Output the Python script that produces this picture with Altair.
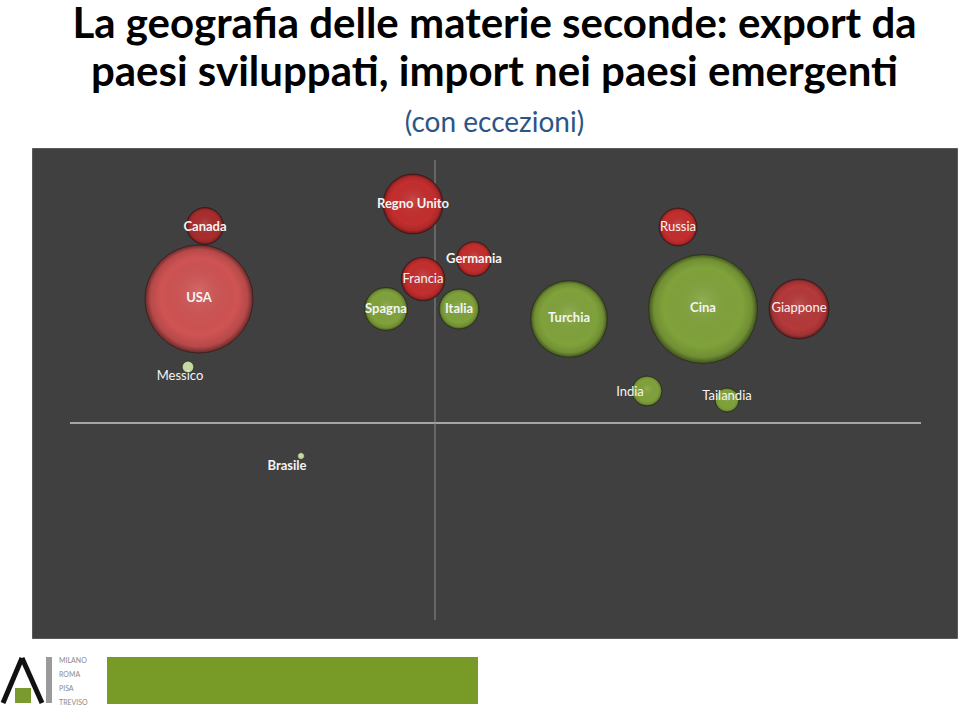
import altair as alt
import pandas as pd

# ---- data ----
paesi = ["USA", "Canada", "Messico", "Brasile", "Regno Unito", "Francia", "Spagna",
         "Germania", "Italia", "Turchia", "Russia", "Cina", "Giappone", "India", "Tailandia"]
pos_x = [-47.2, -46.0, -49.4, -26.8, -4.4, -2.4, -9.8, 7.8, 4.8, 26.8, 48.6, 53.6, 72.8, 42.4, 58.4]
pos_y = [24.8, 39.4, 11.2, -6.6, 43.8, 28.8, 22.8, 32.8, 22.8, 20.8, 39.2, 22.8, 22.8, 6.4, 4.6]
volume = [117, 13.7, 1.4, 0.5, 36, 19, 18.5, 12, 16, 59, 14.4, 119, 36, 9, 5.8]
colore = ["rosso chiaro", "rosso scuro", "verde chiaro", "verde chiaro", "rosso", "rosso", "verde",
          "rosso", "verde", "verde", "rosso", "verde", "rosso medio", "verde", "verde"]
etichetta_x = [-47.2, -46.0, -51.0, -29.6, -4.4, -2.4, -9.8, 7.8, 4.8, 26.8, 48.6, 53.6, 72.8, 39.0, 58.4]
etichetta_y = [25.0, 39.2, 9.4, -8.6, 43.8, 28.8, 22.8, 32.8, 22.8, 21.0, 39.2, 23.0, 23.0, 6.2, 5.4]
grassetto = [True, True, False, True, True, False, True, True, True, True, False, True, False, False, False]

asse_orizzontale = [-73.0, 97.2]
asse_verticale = [-39.4, 52.6]

colori_dom = ["rosso", "rosso scuro", "rosso chiaro", "rosso medio", "verde", "verde chiaro"]
colori_rng = ["#C42E2E", "#AA2D2D", "#CF5353", "#B5393A", "#80A23B", "#C8DDA2"]

df = pd.DataFrame({
    "paese": paesi, "x": pos_x, "y": pos_y, "volume": volume, "colore": colore,
    "lx": etichetta_x, "ly": etichetta_y, "bold": grassetto,
})

W, H = 925, 490
xs = alt.Scale(domain=[-80.6, 104.4], nice=False, zero=False)
ys = alt.Scale(domain=[-43, 55], nice=False, zero=False)
ss = alt.Scale(domain=[0, 120], range=[0, 12000], zero=True)

base = alt.Chart(df)

bolle = base.mark_circle(opacity=1).encode(
    x=alt.X("x:Q", scale=xs, axis=None),
    y=alt.Y("y:Q", scale=ys, axis=None),
    size=alt.Size("volume:Q", scale=ss, legend=None),
    color=alt.Color("colore:N", scale=alt.Scale(domain=colori_dom, range=colori_rng), legend=None),
)

ombra = base.mark_circle(
    opacity=1,
    fill=alt.RadialGradient(
        gradient="radial",
        stops=[
            alt.GradientStop(offset=0, color="rgba(255,255,255,0.12)"),
            alt.GradientStop(offset=0.72, color="rgba(0,0,0,0)"),
            alt.GradientStop(offset=0.9, color="rgba(0,0,0,0.12)"),
            alt.GradientStop(offset=1, color="rgba(0,0,0,0.5)"),
        ],
        x1=0.5, y1=0.42, r1=0, x2=0.5, y2=0.5, r2=0.5,
    ),
    stroke="rgba(20,20,20,0.55)",
    strokeWidth=1,
).encode(
    x=alt.X("x:Q", scale=xs, axis=None),
    y=alt.Y("y:Q", scale=ys, axis=None),
    size=alt.Size("volume:Q", scale=ss, legend=None),
)

asse_df_h = pd.DataFrame({"x": [asse_orizzontale[0]], "x2": [asse_orizzontale[1]], "y": [0.0]})
asse_df_v = pd.DataFrame({"y": [asse_verticale[0]], "y2": [asse_verticale[1]], "x": [0.0]})

linea_h = alt.Chart(asse_df_h).mark_rule(color="#A6A6A6", strokeWidth=2).encode(
    x=alt.X("x:Q", scale=xs, axis=None), x2="x2:Q", y=alt.Y("y:Q", scale=ys, axis=None))
linea_v = alt.Chart(asse_df_v).mark_rule(color="#8C8C8C", strokeWidth=1).encode(
    y=alt.Y("y:Q", scale=ys, axis=None), y2="y2:Q", x=alt.X("x:Q", scale=xs, axis=None))

font = "Lato, 'Open Sans', sans-serif"
testo_b = base.transform_filter("datum.bold").mark_text(
    font=font, fontSize=13, fontWeight="bold", color="#F4F4F4", baseline="middle", align="center"
).encode(x=alt.X("lx:Q", scale=xs, axis=None), y=alt.Y("ly:Q", scale=ys, axis=None), text="paese:N")
testo_n = base.transform_filter("!datum.bold").mark_text(
    font=font, fontSize=13, fontWeight="normal", color="#F4F4F4", baseline="middle", align="center"
).encode(x=alt.X("lx:Q", scale=xs, axis=None), y=alt.Y("ly:Q", scale=ys, axis=None), text="paese:N")

# ---- slide footer decoration ----
uno = pd.DataFrame({"k": [0]})
barra_verde = alt.Chart(uno).mark_rect(color="#789A26").encode(
    x=alt.value(75), x2=alt.value(446), y=alt.value(509), y2=alt.value(556))
barra_grigia = alt.Chart(uno).mark_rect(color="#9A9A9A").encode(
    x=alt.value(14), x2=alt.value(20), y=alt.value(509), y2=alt.value(555))
quadrato = alt.Chart(uno).mark_rect(color="#7A9A30").encode(
    x=alt.value(-17), x2=alt.value(-1), y=alt.value(540), y2=alt.value(555))
a_sx = alt.Chart(uno).mark_rule(color="#111111", strokeWidth=5).encode(
    x=alt.value(-29), y=alt.value(555), x2=alt.value(-10), y2=alt.value(510))
a_dx = alt.Chart(uno).mark_rule(color="#111111", strokeWidth=5).encode(
    x=alt.value(-10), y=alt.value(510), x2=alt.value(10), y2=alt.value(555))
citta = []
for nome, yy in [("MILANO", 513), ("ROMA", 527), ("PISA", 541), ("TREVISO", 555)]:
    citta.append(alt.Chart(uno).mark_text(
        text=nome, font=font, fontSize=7, color="#8A8A8A", align="left", baseline="middle"
    ).encode(x=alt.value(27), y=alt.value(yy)))

chart = alt.layer(
    linea_h, linea_v, bolle, ombra, testo_b, testo_n,
    barra_verde, barra_grigia, quadrato, a_sx, a_dx, *citta
).properties(
    width=W, height=H,
    title=alt.TitleParams(
        text=["La geografia delle materie seconde: export da",
              "paesi sviluppati, import nei paesi emergenti"],
        subtitle="(con eccezioni)",
        anchor="middle", font=font, fontSize=42, fontWeight="bold", color="#000000",
        lineHeight=48, subtitleFont=font, subtitleFontSize=28, subtitleColor="#2B5586",
        subtitlePadding=15, offset=9,
    ),
    autosize=alt.AutoSizeParams(type="none"),
    padding={"left": 32, "top": 148, "right": 3, "bottom": 70},
).configure(background="#FFFFFF").configure_view(
    fill="#404040", stroke="#5A5A5A", strokeWidth=1
)

chart.save("out.html", embed_options={"renderer": "svg", "actions": False})
